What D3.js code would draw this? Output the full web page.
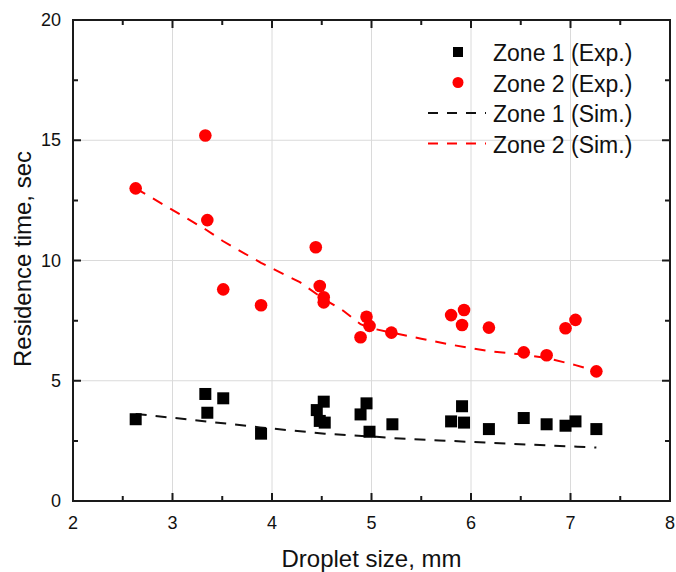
<!DOCTYPE html>
<html>
<head>
<meta charset="utf-8">
<script src="https://cdn.jsdelivr.net/npm/d3@7"></script>
</head>
<body style="margin:0;background:#fff">
<div id="chart" style="position:relative;width:676px;height:572px"></div>
<script>
// data
var zone1ExpX = [2.63, 3.33, 3.35, 3.51, 3.89, 4.45, 4.52, 4.48, 4.53, 4.89, 4.95, 4.98, 5.21, 5.80, 5.91, 5.93, 6.18, 6.53, 6.76, 6.95, 7.05, 7.26];
var zone1ExpY = [3.40, 4.45, 3.67, 4.27, 2.80, 3.78, 4.13, 3.33, 3.26, 3.60, 4.06, 2.88, 3.19, 3.31, 3.94, 3.26, 2.99, 3.45, 3.19, 3.13, 3.31, 2.99];

var zone2ExpX = [2.63, 3.33, 3.35, 3.51, 3.89, 4.44, 4.48, 4.52, 4.52, 4.89, 4.95, 4.98, 5.20, 5.80, 5.93, 5.91, 6.18, 6.53, 6.76, 6.95, 7.05, 7.26];
var zone2ExpY = [13.0, 15.2, 11.68, 8.80, 8.14, 10.55, 8.94, 8.47, 8.26, 6.81, 7.66, 7.28, 7.00, 7.73, 7.94, 7.32, 7.21, 6.18, 6.06, 7.18, 7.53, 5.39];

var zone1SimX = [2.63, 3.21, 3.88, 4.53, 5.05, 5.22, 5.68, 6.14, 6.61, 7.07, 7.26];
var zone1SimY = [3.62, 3.37, 3.06, 2.80, 2.67, 2.61, 2.52, 2.43, 2.34, 2.26, 2.22];

var zone2SimX = [2.63, 3.33, 3.51, 3.89, 4.28, 4.52, 4.72, 4.89, 4.98, 5.20, 5.50, 5.80, 6.00, 6.20, 6.50, 6.76, 7.05, 7.26];
var zone2SimY = [13.0, 11.3, 10.8, 9.9, 9.1, 8.4, 7.9, 7.35, 7.2, 7.0, 6.75, 6.5, 6.35, 6.22, 6.1, 5.95, 5.65, 5.4];

var legendLabels = ["Zone 1 (Exp.)", "Zone 2 (Exp.)", "Zone 1 (Sim.)", "Zone 2 (Sim.)"];

var xTicks = [2, 3, 4, 5, 6, 7, 8];
var yTicks = [0, 5, 10, 15, 20];
var xMinor = [2.5, 3.5, 4.5, 5.5, 6.5, 7.5];
var yMinor = [2.5, 7.5, 12.5, 17.5];

var W = 676, H = 572;
var margin = {top: 20, right: 6, bottom: 71, left: 73};
var width = W - margin.left - margin.right,
    height = H - margin.top - margin.bottom;
var FONT = '"Liberation Sans", Arial, sans-serif';

var root = d3.select('#chart').append('svg')
  .attr('width', W).attr('height', H)
  .style('position', 'absolute').style('left', 0).style('top', 0);
var svg = root.append('g')
  .attr('transform', 'translate(' + margin.left + ',' + margin.top + ')');

var x = d3.scaleLinear().domain([2, 8]).range([0, width]);
var y = d3.scaleLinear().domain([0, 20]).range([height, 0]);

// grid
svg.selectAll(null)
  .data(xTicks.slice(1, -1)).enter().append('line')
  .attr('x1', d => x(d)).attr('x2', d => x(d))
  .attr('y1', 0).attr('y2', height)
  .style('stroke', '#dadada').style('stroke-width', 1);
svg.selectAll(null)
  .data(yTicks.slice(1, -1)).enter().append('line')
  .attr('y1', d => y(d)).attr('y2', d => y(d))
  .attr('x1', 0).attr('x2', width)
  .style('stroke', '#dadada').style('stroke-width', 1);

// tick labels
svg.selectAll(null).data(xTicks).enter().append('text')
  .attr('x', d => x(d)).attr('y', height + 28)
  .attr('text-anchor', 'middle')
  .style('font-family', FONT).style('font-size', '18px').style('fill', '#111')
  .text(d => d);
svg.selectAll(null).data(yTicks).enter().append('text')
  .attr('x', -12).attr('y', d => y(d) + 6)
  .attr('text-anchor', 'end')
  .style('font-family', FONT).style('font-size', '18px').style('fill', '#111')
  .text(d => d);

// simulation lines
var simLine = d3.line().x(d => x(d[0])).y(d => y(d[1]));
svg.append('path')
  .datum(zone1SimX.map((v, i) => [v, zone1SimY[i]]))
  .attr('d', simLine).style('fill', 'none')
  .style('stroke', '#111').style('stroke-width', 2).style('stroke-dasharray', '11,9');
svg.append('path')
  .datum(zone2SimX.map((v, i) => [v, zone2SimY[i]]))
  .attr('d', simLine).style('fill', 'none')
  .style('stroke', '#f00').style('stroke-width', 2).style('stroke-dasharray', '11,9');

// experiments
var sq = 12;
svg.selectAll(null).data(zone1ExpX.map((v, i) => [v, zone1ExpY[i]]))
  .enter().append('rect')
  .attr('x', d => x(d[0]) - sq / 2).attr('y', d => y(d[1]) - sq / 2)
  .attr('width', sq).attr('height', sq).style('fill', '#000');
svg.selectAll(null).data(zone2ExpX.map((v, i) => [v, zone2ExpY[i]]))
  .enter().append('circle')
  .attr('cx', d => x(d[0])).attr('cy', d => y(d[1]))
  .attr('r', 6.3).style('fill', '#f00');

// legend, in page pixels
var rowY = [52, 82.5, 113, 143.5];
root.append('rect').attr('x', 453).attr('y', rowY[0] - 5).attr('width', 10).attr('height', 10).style('fill', '#000');
root.append('circle').attr('cx', 458).attr('cy', rowY[1]).attr('r', 5.5).style('fill', '#f00');
root.append('line').attr('x1', 428).attr('x2', 486)
  .attr('y1', rowY[2]).attr('y2', rowY[2])
  .style('stroke', '#111').style('stroke-width', 2).style('stroke-dasharray', '10,9');
root.append('line').attr('x1', 428).attr('x2', 486)
  .attr('y1', rowY[3]).attr('y2', rowY[3])
  .style('stroke', '#f00').style('stroke-width', 2).style('stroke-dasharray', '10,9');
root.selectAll(null).data(legendLabels).enter().append('text')
  .attr('x', 493).attr('y', (d, i) => rowY[i] + 9)
  .style('font-family', FONT).style('font-size', '23px').style('fill', '#111')
  .text(d => d);

// axis titles
root.append('text')
  .attr('x', margin.left + width / 2).attr('y', 567)
  .attr('text-anchor', 'middle')
  .style('font-family', FONT).style('font-size', '24px').style('fill', '#111')
  .text('Droplet size, mm');
root.append('text')
  .attr('transform', 'translate(31,259) rotate(-90)')
  .attr('text-anchor', 'middle')
  .style('font-family', FONT).style('font-size', '24px').style('fill', '#111')
  .text('Residence time, sec');

// frame and inward ticks in an overlay svg
var over = d3.select('#chart').append('svg')
  .attr('width', W).attr('height', H)
  .style('position', 'absolute').style('left', 0).style('top', 0)
  .append('g')
  .attr('transform', 'translate(' + margin.left + ',' + margin.top + ')');
var tk = d3.path();
xTicks.forEach(d => { tk.moveTo(x(d), height); tk.lineTo(x(d), height - 8); tk.moveTo(x(d), 0); tk.lineTo(x(d), 8); });
xMinor.forEach(d => { tk.moveTo(x(d), height); tk.lineTo(x(d), height - 5); tk.moveTo(x(d), 0); tk.lineTo(x(d), 5); });
yTicks.forEach(d => { tk.moveTo(0, y(d)); tk.lineTo(8, y(d)); tk.moveTo(width, y(d)); tk.lineTo(width - 8, y(d)); });
yMinor.forEach(d => { tk.moveTo(0, y(d)); tk.lineTo(5, y(d)); tk.moveTo(width, y(d)); tk.lineTo(width - 5, y(d)); });
tk.rect(0, 0, width, height);
over.append('path')
  .attr('d', tk.toString())
  .attr('fill', 'none').attr('stroke', '#1a1a1a').attr('stroke-width', 2);
</script>
</body>
</html>
